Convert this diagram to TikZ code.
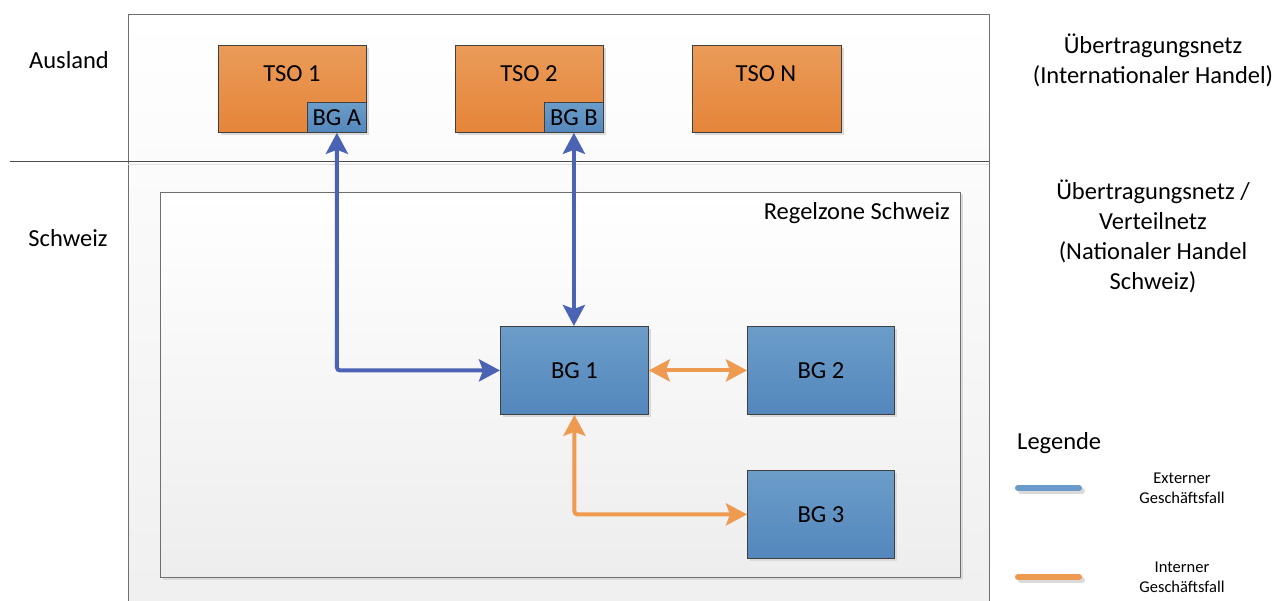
\documentclass[tikz,border=0pt]{standalone}
\usepackage{fontspec}
\setmainfont{Carlito}
\usetikzlibrary{arrows.meta,shadows}
\definecolor{frameline}{HTML}{6E6E6E}
\definecolor{boxline}{HTML}{404040}
\definecolor{orTop}{HTML}{EA9B58}
\definecolor{orBot}{HTML}{E5853A}
\definecolor{blTop}{HTML}{6C9DC9}
\definecolor{blBot}{HTML}{5387BC}
\definecolor{extArrow}{HTML}{4B63B5}
\definecolor{intArrow}{HTML}{EE9A50}
\definecolor{legBlue}{HTML}{6A9ACA}
\definecolor{legOrange}{HTML}{EE9A50}
\definecolor{shadowgray}{HTML}{DADADA}
\tikzset{
  boxshadow/.style={drop shadow={shadow xshift=3pt,shadow yshift=-3pt,fill=shadowgray,opacity=1}},
  tsobox/.style={draw=boxline,line width=0.8pt,top color=orTop,bottom color=orBot,inner sep=0pt,anchor=north west,boxshadow},
  bgbox/.style={draw=boxline,line width=0.8pt,top color=blTop,bottom color=blBot,inner sep=0pt,anchor=north west,boxshadow,font=\fontsize{24.5}{28}\selectfont},
  smallbg/.style={draw=boxline,line width=0.8pt,top color=blTop,bottom color=blBot,inner sep=0pt,anchor=north west,font=\fontsize{24.5}{28}\selectfont},
  lbl/.style={font=\fontsize{24.5}{30}\selectfont,align=center,inner sep=0pt},
  leglbl/.style={font=\fontsize{16.5}{20}\selectfont,align=center,inner sep=0pt},
  extflow/.style={draw=extArrow,line width=4pt,rounded corners=3pt,{Stealth[length=21pt,width=22pt,inset=4pt]}-{Stealth[length=21pt,width=22pt,inset=4pt]}},
  intflow/.style={draw=intArrow,line width=4pt,rounded corners=3pt,{Stealth[length=21pt,width=22pt,inset=4pt]}-{Stealth[length=21pt,width=22pt,inset=4pt]}},
  legline/.style={line width=6pt,line cap=round},
}
\begin{document}
\begin{tikzpicture}[x=1pt,y=-1pt]
\useasboundingbox (0,0) rectangle (1279,601);
\fill[white] (0,0) rectangle (1279,601);
% outer frame
\shade[top color=white,bottom color=black!6] (128,15) rectangle (989,601);
\draw[frameline,line width=1pt] (128,601) -- (128,15) -- (989,15) -- (989,601);
\draw[black!12,line width=1pt] (128,164.5) -- (989,164.5);
\draw[black!70,line width=1pt] (10,162) -- (989,162);
% Regelzone
\node[draw=frameline,line width=1pt,top color=white,bottom color=black!7,inner sep=0pt,anchor=north west,minimum width=800pt,minimum height=385pt,drop shadow={shadow xshift=2pt,shadow yshift=-2pt,fill=shadowgray,opacity=1}] (zone) at (160,192) {};
\node[lbl,anchor=east] (zonelbl) at (950,213) {Regelzone Schweiz};
% TSO boxes
\node[tsobox,minimum width=148pt,minimum height=87pt] (tso1) at (218,45) {};
\node[lbl] (tso1t) at (292,74) {TSO 1};
\node[smallbg,minimum width=59pt,minimum height=30pt] (bga) at (307,102) {BG A};
\node[tsobox,minimum width=148pt,minimum height=87pt] (tso2) at (455,45) {};
\node[lbl] (tso2t) at (529,74) {TSO 2};
\node[smallbg,minimum width=59pt,minimum height=30pt] (bgb) at (544,102) {BG B};
\node[tsobox,minimum width=149pt,minimum height=87pt] (tson) at (692,45) {};
\node[lbl] (tsont) at (766,74) {TSO N};
% BG boxes
\node[bgbox,minimum width=148pt,minimum height=88pt] (bg1) at (500,326) {BG 1};
\node[bgbox,minimum width=147pt,minimum height=88pt] (bg2) at (747,326) {BG 2};
\node[bgbox,minimum width=147pt,minimum height=88pt] (bg3) at (747,470) {BG 3};
% flows
\draw[extflow] (bga.south) |- (bg1.west);
\draw[extflow] (bgb.south) -- (bgb.south |- bg1.north);
\draw[intflow] (bg1.east) -- (bg2.west);
\draw[intflow] (bg1.south) |- (bg3.west);
% side labels
\node[lbl] (ausland) at (69,60) {Ausland};
\node[lbl] (schweiz) at (68,238) {Schweiz};
\node[lbl] (intl) at (1153,60) {Übertragungsnetz\\(Internationaler Handel)};
\node[lbl] (natl) at (1153,236) {Übertragungsnetz /\\Verteilnetz\\(Nationaler Handel\\Schweiz)};
% legend
\node[lbl,anchor=west] (legende) at (1017,443) {Legende};
\coordinate (lb1) at (1018,488);
\coordinate (lb2) at (1079,488);
\coordinate (lo1) at (1018,577);
\coordinate (lo2) at (1079,577);
\draw[legline,shadowgray] ([shift={(3,3)}]lb1) -- ([shift={(3,3)}]lb2);
\draw[legline,legBlue] (lb1) -- (lb2);
\draw[legline,shadowgray] ([shift={(3,3)}]lo1) -- ([shift={(3,3)}]lo2);
\draw[legline,legOrange] (lo1) -- (lo2);
\node[leglbl] (extlbl) at (1182,488) {Externer\\Geschäftsfall};
\node[leglbl] (intlbl) at (1182,577) {Interner\\Geschäftsfall};
\end{tikzpicture}
\end{document}
